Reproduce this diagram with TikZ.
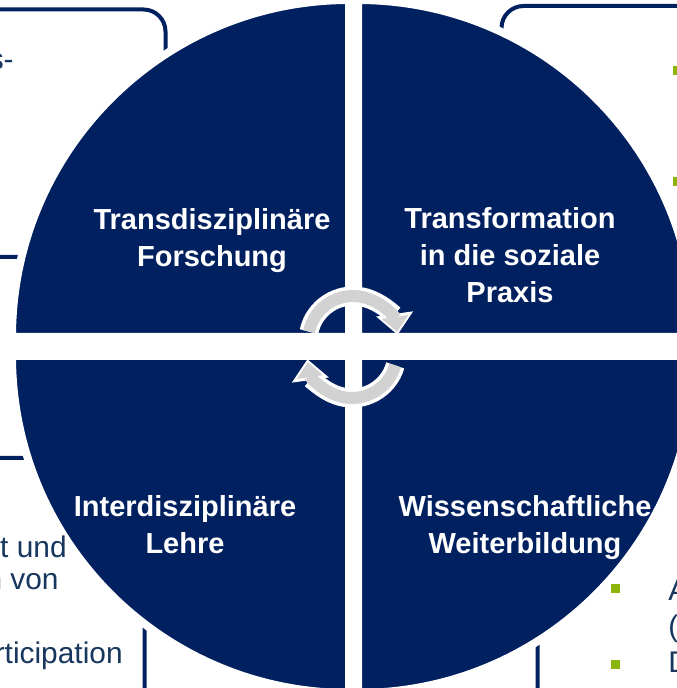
\documentclass[tikz,border=0pt]{standalone}
\usepackage{fontspec}
\setmainfont{Liberation Sans}
\usetikzlibrary{arrows.meta,positioning}
\definecolor{navy}{RGB}{0,32,96}
\definecolor{textblue}{RGB}{23,55,94}
\definecolor{leaf}{RGB}{141,180,10}
\definecolor{ringgray}{RGB}{210,210,210}
\tikzset{
  quarter/.style={fill=navy, draw=white, line width=0.16cm},
  boxline/.style={draw=navy, line width=0.08cm, rounded corners=0.44cm},
  quadtext/.style={text=white, font=\bfseries\fontsize{16.5}{21}\selectfont, align=center, inner sep=0pt},
  boxtext/.style={text=textblue, font=\fontsize{17}{20}\selectfont, inner sep=0pt},
  bullet/.style={fill=leaf, minimum size=0.18cm, inner sep=0pt},
  ringback/.style={white, line width=0.38cm, -{Triangle[width=0.72cm,length=0.42cm]}},
  ringfront/.style={ringgray, line width=0.24cm, shorten >=0.06cm, -{Triangle[width=0.52cm,length=0.3cm]}}
}

\begin{document}
\begin{tikzpicture}
    \useasboundingbox (0,0) rectangle (13.54,13.76);
    % boxes behind the circle
    \draw[boxline] (-2,8.62) rectangle (3.31,13.57);
    \draw[boxline] (10.03,8.6) rectangle (16,13.64);
    \draw[boxline] (-2,-2) rectangle (2.89,4.6);
    \draw[boxline] (10.75,-2) rectangle (16,4.96);
    % the four quarters
    \draw[quarter] (6.98,7.02) -- ++(-6.74,0) arc (180:90:6.74) -- cycle;
    \draw[quarter] (7.16,7.02) -- ++(0,6.74) arc (90:0:6.74) -- cycle;
    \draw[quarter] (7.16,6.64) -- ++(6.74,0) arc (0:-90:6.74) -- cycle;
    \draw[quarter] (6.98,6.64) -- ++(0,-6.74) arc (-90:-180:6.74) -- cycle;
    \node[quadtext] (forschung) at (4.24,8.94) {Transdisziplinäre\\Forschung};
    \node[quadtext] (praxis) at (10.2,8.66) {Transformation\\in die soziale\\Praxis};
    \node[quadtext] (lehre) at (3.7,3.26) {Interdisziplinäre\\Lehre};
    \node[quadtext] (weiterbildung) at (10.5,3.2) {Wissenschaftliche\\Weiterbildung};
    % what is left of the box texts
    \node[boxtext, anchor=base east] (tl1) at (0.28,12.36) {s-};
    \node[boxtext, anchor=base east] (bl1) at (1.34,2.62) {t und};
    \node[boxtext, anchor=base east] (bl2) at (1.18,1.96) {n von};
    \node[boxtext, anchor=base east] (bl3) at (2.46,0.5) {rticipation};
    \node[bullet] (tr1) at (13.55,12.34) {};
    \node[bullet] (tr2) at (13.55,10.12) {};
    \node[bullet] (br1) at (12.31,1.98) {};
    \node[bullet] (br2) at (12.31,0.46) {};
    \node[boxtext, anchor=base west] (brA) at (13.36,1.76) {A};
    \node[boxtext, anchor=base west] (brB) at (13.36,1.02) {(};
    \node[boxtext, anchor=base west] (brC) at (13.36,0.3) {D};
    % cycle arrows in the middle
    \coordinate (hubtop) at (7.06,6.94);
    \coordinate (hubbot) at (7.04,6.70);
    \draw[ringback] ([shift={(168:0.9)}]hubtop) arc (168:8:0.9);
    \draw[ringfront] ([shift={(168:0.9)}]hubtop) arc (168:8:0.9);
    \draw[ringback] ([shift={(-16:0.9)}]hubbot) arc (-16:-172:0.9);
    \draw[ringfront] ([shift={(-16:0.9)}]hubbot) arc (-16:-172:0.9);
  \end{tikzpicture}
\end{document}
